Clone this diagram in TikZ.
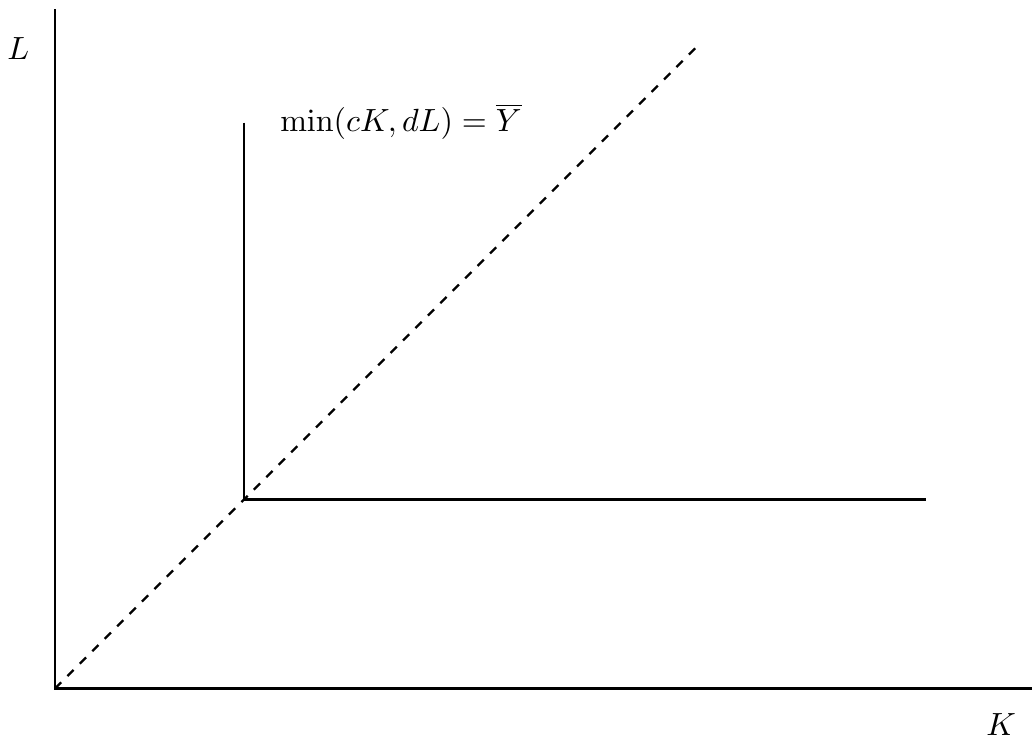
\documentclass[11pt,tikz,border=0pt]{standalone}
\begin{document}
\begin{tikzpicture}
			\useasboundingbox (-0.66, -0.65) rectangle (11.72, 8.26);
			\coordinate (O) at (0, 0);
			\coordinate (Ltop) at (0, 8.15);
			\coordinate (Kend) at (11.72, 0);
			\coordinate (C) at (2.27, 2.27);
			\coordinate (Ctop) at (2.27, 6.79);
			\coordinate (Cright) at (10.45, 2.27);
			\coordinate (D) at (7.71, 7.71);
			
			\draw[line width=1pt] (Ltop) -- (O) -- (Kend);
			\node (L) at (-0.44, 7.68) {$L$};
			\node (K) at (11.35, -0.43) {$K$};
			
			\draw[thick, dashed] (O) -- (D);
			\draw[thick] (Ctop) -- (C) -- (Cright);
			\node (Y) at (4.15, 6.80) {$\min(cK, dL) = \overline{Y}$};
		\end{tikzpicture}
\end{document}
